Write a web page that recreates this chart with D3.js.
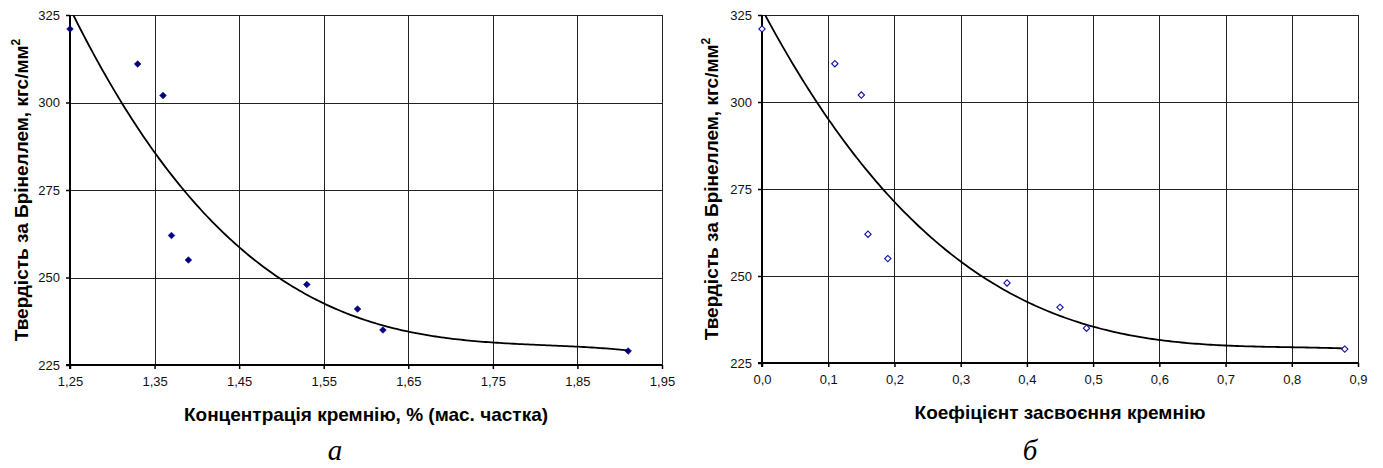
<!DOCTYPE html>
<html>
<head>
<meta charset="utf-8">
<script src="https://cdn.jsdelivr.net/npm/d3@7"></script>
<style>
  body { margin: 0; background: #fff; }
  svg { display: block; }
  text { font-family: "Liberation Sans", Arial, sans-serif; }
</style>
</head>
<body>
<svg width="1383" height="468"></svg>
<script>
// hardness data (Brinell, kgf/mm2)
const hardness = [321, 311, 302, 262, 255, 248, 241, 235, 229];
// panel а: silicon concentration, %
const siliconConc = [1.25, 1.33, 1.36, 1.37, 1.39, 1.53, 1.59, 1.62, 1.91];
// panel б: silicon assimilation coefficient
const siliconCoef = [0.0, 0.11, 0.15, 0.16, 0.19, 0.37, 0.45, 0.49, 0.88];

const xTicksA = [1.25, 1.35, 1.45, 1.55, 1.65, 1.75, 1.85, 1.95];
const xTicksB = [0.0, 0.1, 0.2, 0.3, 0.4, 0.5, 0.6, 0.7, 0.8, 0.9];
const yTicks = [225, 250, 275, 300, 325];

const yLabel = "Твердість за Брінеллем, кгс/мм";
const xLabelA = "Концентрація кремнію, % (мас. частка)";
const xLabelB = "Коефіцієнт засвоєння кремнію";

const svg = d3.select("svg");

// least squares polynomial (trend line like in excel)
function polyFit(xs, ys, deg) {
  const n = deg + 1;
  const A = [];
  for (let i = 0; i < n; i++) {
    A.push([]);
    for (let j = 0; j < n; j++) A[i].push(d3.sum(xs, x => Math.pow(x, i + j)));
    A[i].push(d3.sum(xs, (x, k) => ys[k] * Math.pow(x, i)));
  }
  for (let i = 0; i < n; i++) {
    let p = i;
    for (let r = i + 1; r < n; r++) if (Math.abs(A[r][i]) > Math.abs(A[p][i])) p = r;
    [A[i], A[p]] = [A[p], A[i]];
    for (let r = 0; r < n; r++) {
      if (r === i) continue;
      const f = A[r][i] / A[i][i];
      for (let c = i; c <= n; c++) A[r][c] -= f * A[i][c];
    }
  }
  return A.map((row, i) => row[n] / row[i]);
}

function drawPanel(cfg) {
  const g = svg.append("g");
  const x = d3.scaleLinear().domain(d3.extent(cfg.xTicks)).range([cfg.left, cfg.right]);
  const y = d3.scaleLinear().domain([225, 325]).range([cfg.bottom, cfg.top]);
  const fmt = v => d3.format(cfg.fmt)(v).replace(".", ",");

  const clipId = "clip" + cfg.id;
  g.append("clipPath").attr("id", clipId)
    .append("rect").attr("x", cfg.left).attr("y", cfg.top)
    .attr("width", cfg.right - cfg.left).attr("height", cfg.bottom - cfg.top);

  // grid
  g.selectAll(".vg").data(cfg.xTicks.slice(1)).join("line")
    .attr("x1", d => Math.round(x(d)) + 0.5).attr("x2", d => Math.round(x(d)) + 0.5)
    .attr("y1", cfg.top).attr("y2", cfg.bottom)
    .attr("stroke", "#222").attr("stroke-width", 1);
  g.selectAll(".hg").data(yTicks.slice(1)).join("line")
    .attr("x1", cfg.left).attr("x2", cfg.right)
    .attr("y1", d => Math.round(y(d)) + 0.5).attr("y2", d => Math.round(y(d)) + 0.5)
    .attr("stroke", "#222").attr("stroke-width", 1);

  // axes
  const xAxis = d3.axisBottom(x).tickValues(cfg.xTicks).tickFormat(fmt).tickSize(4).tickPadding(8);
  const yAxis = d3.axisLeft(y).tickValues(yTicks).tickSize(4).tickPadding(6);
  const gx = g.append("g").attr("transform", `translate(0,${cfg.bottom})`).call(xAxis);
  const gy = g.append("g").attr("transform", `translate(${cfg.left},0)`).call(yAxis);
  [gx, gy].forEach(a => {
    a.select(".domain").attr("stroke", "#000").attr("stroke-width", 2);
    a.selectAll(".tick line").attr("stroke", "#000").attr("stroke-width", 1.5);
    a.selectAll(".tick text").attr("fill", "#111")
      .style("font-family", "Liberation Sans, Arial, sans-serif").style("font-size", "13px");
  });
  gy.select(".domain").attr("d", `M-4,${cfg.bottom}H0V${cfg.top}`);
  gx.select(".domain").attr("d", `M${cfg.left},4V0H${cfg.right}`);

  // trend line
  const xs = cfg.xData;
  const coef = polyFit(xs, hardness, 3);
  const f = v => coef.reduce((s, c, i) => s + c * Math.pow(v, i), 0);
  const xMin = d3.min(xs), xMax = d3.max(xs);
  const samples = d3.range(0, 201).map(i => xMin + (xMax - xMin) * i / 200);
  g.append("path")
    .attr("clip-path", `url(#${clipId})`)
    .attr("d", d3.line().x(d => x(d)).y(d => y(f(d)))(samples))
    .attr("fill", "none").attr("stroke", "#000").attr("stroke-width", 1.8);

  // points - square turned 45deg so it looks like excel's diamond
  const diamond = d3.symbol().type(d3.symbolSquare).size(cfg.filled ? 22 : 20);
  g.selectAll(".pt").data(xs.map((v, i) => [v, hardness[i]])).join("path")
    .attr("transform", d => `translate(${x(d[0])},${y(d[1])}) rotate(45)`)
    .attr("d", diamond)
    .attr("fill", cfg.filled ? "#000080" : "#fff")
    .attr("stroke", cfg.filled ? "#000080" : "#1010a0")
    .attr("stroke-width", cfg.filled ? 0.6 : 1.1);

  // labels
  const yl = g.append("text")
    .attr("transform", `translate(${cfg.yLabelX},${(cfg.top + cfg.bottom) / 2}) rotate(-90)`)
    .attr("text-anchor", "middle")
    .style("font-weight", "bold").style("font-size", "19px").attr("fill", "#000");
  yl.append("tspan").text(yLabel);
  yl.append("tspan").attr("dy", -8).style("font-size", "12px").text("2");

  g.append("text")
    .attr("x", (cfg.left + cfg.right) / 2).attr("y", cfg.bottom + 56)
    .attr("text-anchor", "middle")
    .style("font-weight", "bold").style("font-size", "19px").attr("fill", "#000")
    .text(cfg.xLabel);

  g.append("text")
    .attr("x", cfg.letterX).attr("y", 460)
    .attr("text-anchor", "middle")
    .style("font-family", "Liberation Serif, Times New Roman, serif")
    .style("font-style", "italic").style("font-size", "29px").attr("fill", "#000")
    .text(cfg.letter);
}

drawPanel({ id: "a", xData: siliconConc, xTicks: xTicksA, fmt: ".2f", filled: true,
  left: 70, right: 662, top: 15, bottom: 365, yLabelX: 28, xLabel: xLabelA, letter: "а", letterX: 335 });
drawPanel({ id: "b", xData: siliconCoef, xTicks: xTicksB, fmt: ".1f", filled: false,
  left: 762, right: 1358, top: 15, bottom: 363, yLabelX: 718, xLabel: xLabelB, letter: "б", letterX: 1030 });
</script>
</body>
</html>
